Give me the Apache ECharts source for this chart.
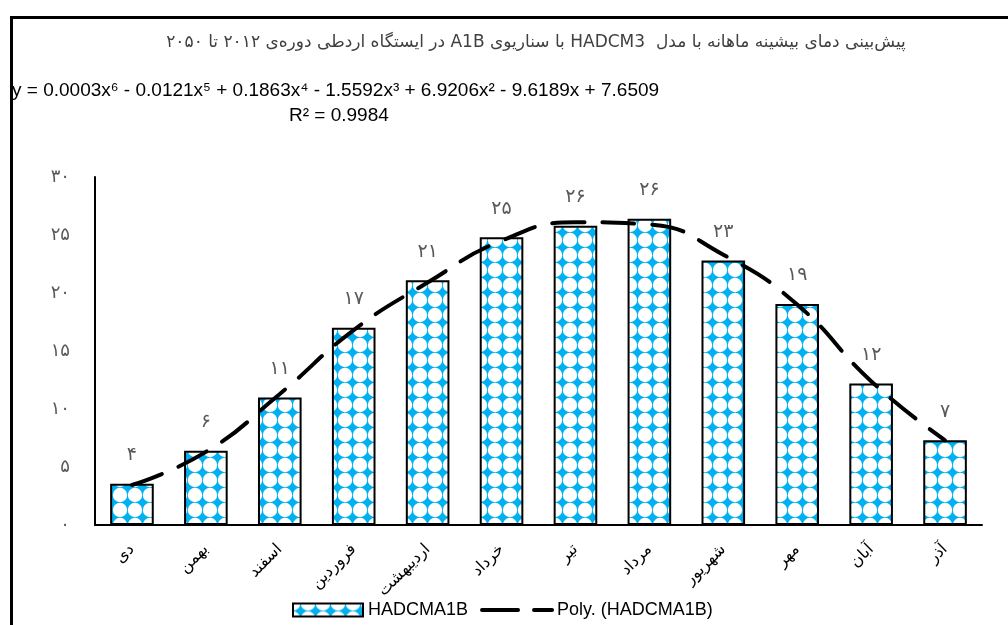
<!DOCTYPE html>
<html>
<head>
<meta charset="utf-8">
<script src="https://cdn.jsdelivr.net/npm/echarts@6/dist/echarts.min.js"></script>
<style>
  html, body { margin: 0; padding: 0; background: #fff; }
  #mainChart { width: 1008px; height: 625px; }
</style>
</head>
<body>
<div id="mainChart"></div>
<script>
// month names (Persian calendar), left to right as in the chart
var months = ['دی', 'بهمن', 'اسفند', 'فروردین', 'اردیبهشت', 'خرداد', 'تیر', 'مرداد', 'شهریور', 'مهر', 'آبان', 'آذر'];
// monthly max temperature
var tmax = [3.55, 6.4, 11.0, 17.0, 21.1, 24.8, 25.8, 26.4, 22.8, 19.05, 12.2, 7.3];
// poly trendline at each month
var trend = [3.45, 6.3, 11.3, 16.8, 20.9, 24.5, 26.1, 25.9, 23.3, 19.0, 12.4, 7.3];
var yTicks = [0, 5, 10, 15, 20, 25, 30];

var titleText = 'پیش‌بینی دمای بیشینه ماهانه با مدل  HADCM3 با سناریوی A1B در ایستگاه اردطی دوره‌ی ۲۰۱۲ تا ۲۰۵۰';
var eqText = 'y = 0.0003x⁶ - 0.0121x⁵ + 0.1863x⁴ - 1.5592x³ + 6.9206x² - 9.6189x + 7.6509';
var r2Text = 'R² = 0.9984';

function fa(n) {
    return String(n).replace(/\d/g, function (d) { return '۰۱۲۳۴۵۶۷۸۹'[d]; });
}

// blue star pattern used for the bars
function makePattern() {
    var c = document.createElement('canvas');
    var s = 15;
    c.width = s; c.height = s;
    var ctx = c.getContext('2d');
    ctx.fillStyle = '#00B0F0';
    ctx.fillRect(0, 0, s, s);
    ctx.fillStyle = '#ffffff';
    [[0, 0], [s, 0], [0, s], [s, s]].forEach(function (p) {
        ctx.beginPath();
        ctx.arc(p[0], p[1], 7.2, 0, Math.PI * 2);
        ctx.fill();
    });
    return c;
}

var myChart = echarts.init(document.getElementById('mainChart'));

var option = {
    backgroundColor: '#fff',
    animation: false,
    title: {
        text: '\u202B' + titleText + '\u202C',
        left: 531,
        top: 29,
        textAlign: 'center',
        textStyle: { fontFamily: 'DejaVu Sans', fontSize: 17, fontWeight: 'normal', color: '#404040' }
    },
    graphic: [
        {
            type: 'rect', left: 9, top: 15, silent: true,
            shape: { width: 1100, height: 700 },
            style: { fill: 'none', stroke: '#000', lineWidth: 3 }
        },
        {
            type: 'text', left: 12, top: 81, silent: true,
            style: { text: eqText, font: '19px "Liberation Sans"', fill: '#000' }
        },
        {
            type: 'text', left: 289, top: 106, silent: true,
            style: { text: r2Text, font: '19px "Liberation Sans"', fill: '#000' }
        }
    ],
    legend: {
        left: 287,
        top: 596,
        itemWidth: 70,
        itemHeight: 13,
        itemGap: 12,
        textStyle: { fontFamily: 'Liberation Sans', fontSize: 18, color: '#000' },
        data: [
            { name: 'HADCMA1B', icon: 'rect' },
            {
                name: 'Poly. (HADCMA1B)',
                itemStyle: { opacity: 0 },
                lineStyle: { width: 4, type: [36, 16], cap: 'round' }
            }
        ]
    },
    grid: { left: 95, right: 26, top: 177, bottom: 100 },
    xAxis: {
        type: 'category',
        data: months,
        axisLine: { lineStyle: { color: '#000', width: 2 } },
        axisTick: { show: false },
        axisLabel: {
            rotate: 45,
            margin: 22,
            interval: 0,
            fontFamily: 'DejaVu Sans',
            fontSize: 16,
            color: '#000'
        }
    },
    yAxis: {
        type: 'value',
        min: 0,
        max: yTicks[yTicks.length - 1],
        interval: yTicks[1] - yTicks[0],
        axisLine: { show: true, lineStyle: { color: '#000', width: 2 } },
        axisTick: { show: false },
        splitLine: { show: false },
        axisLabel: {
            margin: 25,
            fontFamily: 'DejaVu Sans',
            fontSize: 18,
            color: '#595959',
            formatter: function (v) { return fa(v); }
        }
    },
    series: [
        {
            name: 'HADCMA1B',
            type: 'bar',
            data: tmax,
            barWidth: '59%',
            itemStyle: {
                color: { image: makePattern(), repeat: 'repeat' },
                borderColor: '#000',
                borderWidth: 2
            },
            label: {
                show: true,
                position: 'top',
                distance: 19,
                fontFamily: 'DejaVu Sans',
                fontSize: 19,
                color: '#595959',
                formatter: function (p) { return fa(Math.round(p.value)); }
            }
        },
        {
            name: 'Poly. (HADCMA1B)',
            type: 'line',
            data: trend,
            smooth: true,
            symbol: 'none',
            z: 5,
            itemStyle: { color: '#000' },
            lineStyle: { color: '#000', width: 4, type: [32, 18], cap: 'round' }
        }
    ]
};

myChart.setOption(option);
</script>
</body>
</html>
